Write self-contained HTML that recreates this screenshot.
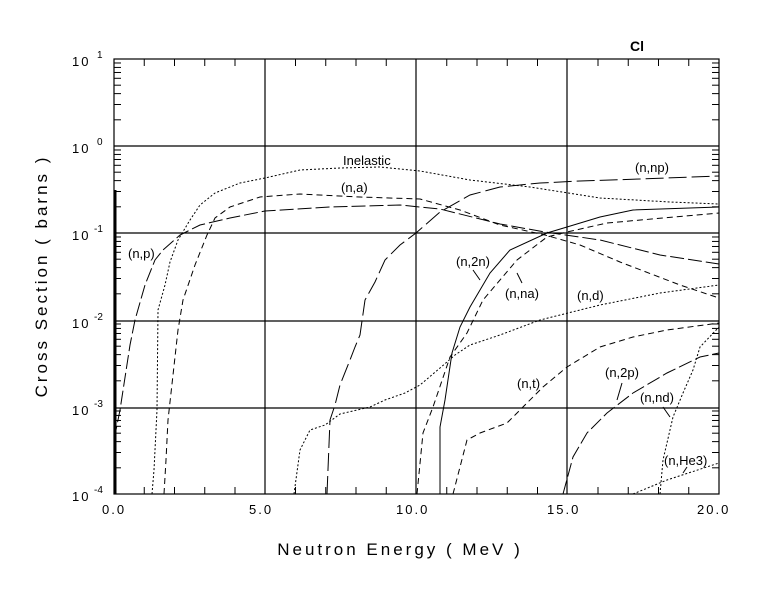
<!DOCTYPE html>
<html><head><meta charset="utf-8"><style>
html,body{margin:0;padding:0;background:#fff;}
svg{display:block;font-family:"Liberation Sans",sans-serif;}
</style></head><body>
<svg id="s" width="780" height="590" xmlns="http://www.w3.org/2000/svg">
<rect width="780" height="590" fill="#fff"/>
<g stroke="#000" stroke-width="1.2" fill="none">
<rect x="114" y="59" width="605" height="435"/>
<line x1="265" y1="59" x2="265" y2="494"/><line x1="416" y1="59" x2="416" y2="494"/><line x1="567" y1="59" x2="567" y2="494"/>
<line x1="114" y1="146" x2="719" y2="146"/><line x1="114" y1="233" x2="719" y2="233"/><line x1="114" y1="321" x2="719" y2="321"/><line x1="114" y1="408" x2="719" y2="408"/>
</g>
<g id="ticks" stroke="#000" stroke-width="1"></g>
<line x1="115" y1="190" x2="115" y2="494" stroke="#000" stroke-width="3"/>
<g fill="none" stroke="#000" stroke-width="1">
<polyline stroke-dasharray="2,2" points="152,494 154,470 157,410 158,310 165,285 170,262 178,240 190,220 200,205 215,193 240,183 265,178 300,170 340,168 380,167 420,171 470,180 530,187 600,198 670,202 719,204"/>
<polyline stroke-dasharray="6,4" points="164,494 166,460 168,420 178,330 183,300 195,265 207,235 215,218 230,207 260,197 300,194 360,197 420,199 460,210 500,225 545,235 580,245 620,262 680,285 719,298"/>
<polyline stroke-dasharray="14,4" points="114,494 116,430 120,410 130,345 135,320 145,285 155,260 163,250 180,235 200,225 230,218 265,211 330,207 400,205 440,209 500,224 545,232 600,240 660,255 719,264"/>
<polyline stroke-dasharray="18,5" points="327,494 330,420 335,405 340,385 350,360 355,347 360,335 365,300 375,282 385,260 400,245 416,233 440,212 470,195 500,187 540,183 580,181 640,179 719,176"/>
<polyline stroke-dasharray="2,2" points="294,494 300,450 310,430 325,425 340,414 370,407 385,400 405,393 420,385 440,368 455,355 470,345 500,335 540,320 560,315 600,305 660,293 719,285"/>
<polyline points="440,494 440,427 445,400 452,353 460,327 470,307 490,273 510,250 547,233 567,227 600,217 633,210 719,207"/>
<polyline stroke-dasharray="6,4" points="417,494 423,433 433,407 450,357 467,333 483,300 517,260 547,237 567,232 607,223 719,213"/>
<polyline stroke-dasharray="6,4" points="453,494 467,440 480,433 507,423 527,403 543,387 567,367 600,347 633,337 667,330 719,323"/>
<polyline stroke-dasharray="14,4" points="563,494 573,457 587,433 607,413 633,393 667,373 700,357 719,353"/>
<polyline stroke-dasharray="2,2" points="660,494 663,460 673,417 683,393 693,370 700,347 719,327"/>
<polyline stroke-dasharray="2,2" points="633,494 667,480 719,463"/>
<line x1="473" y1="270" x2="480" y2="280"/><line x1="517" y1="273" x2="522" y2="283"/>
<line x1="622" y1="383" x2="617" y2="400"/><line x1="663" y1="407" x2="670" y2="417"/><line x1="687" y1="467" x2="683" y2="473"/>
</g>
<g font-size="13" fill="#000">
<text x="343" y="165">Inelastic</text><text x="341" y="192">(n,a)</text><text x="128" y="258">(n,p)</text>
<text x="635" y="172">(n,np)</text><text x="456" y="266">(n,2n)</text><text x="505" y="298">(n,na)</text>
<text x="577" y="300">(n,d)</text><text x="517" y="388">(n,t)</text><text x="605" y="377">(n,2p)</text>
<text x="640" y="402">(n,nd)</text><text x="664" y="465">(n,He3)</text>
<text x="630" y="51" font-weight="bold" font-size="14">Cl</text>
</g>
<g font-size="13" fill="#000" letter-spacing="2">
<text x="102" y="514" text-anchor="start">0.0</text><text x="249" y="514">5.0</text><text x="396" y="514">10.0</text><text x="547" y="514">15.0</text><text x="697" y="514">20.0</text>
<text x="72" y="66">10</text><text x="72" y="153">10</text><text x="72" y="240">10</text><text x="72" y="328">10</text><text x="72" y="415">10</text><text x="72" y="501">10</text>
</g>
<g font-size="10" fill="#000">
<text x="97" y="58">1</text><text x="97" y="145">0</text><text x="94" y="232">-1</text><text x="94" y="320">-2</text><text x="94" y="407">-3</text><text x="94" y="493">-4</text>
</g>
<text x="400" y="555" font-size="17" text-anchor="middle" letter-spacing="3">Neutron Energy ( MeV )</text>
<text transform="translate(47,276) rotate(-90)" font-size="17" text-anchor="middle" letter-spacing="3">Cross Section ( barns )</text>
</svg>
<script>
var g=document.getElementById('ticks'),h='';
for(var d=0;d<5;d++){var y0=494-87*d;for(var k=2;k<10;k++){var y=y0-87*Math.log10(k);
h+='<line x1="114" y1="'+y+'" x2="121" y2="'+y+'"/><line x1="712" y1="'+y+'" x2="719" y2="'+y+'"/>';}}
for(var e=1;e<20;e++){if(e%5==0)continue;var x=114+30.25*e;
h+='<line x1="'+x+'" y1="494" x2="'+x+'" y2="487"/><line x1="'+x+'" y1="59" x2="'+x+'" y2="66"/>';}
g.innerHTML=h;
</script>
</body></html>
